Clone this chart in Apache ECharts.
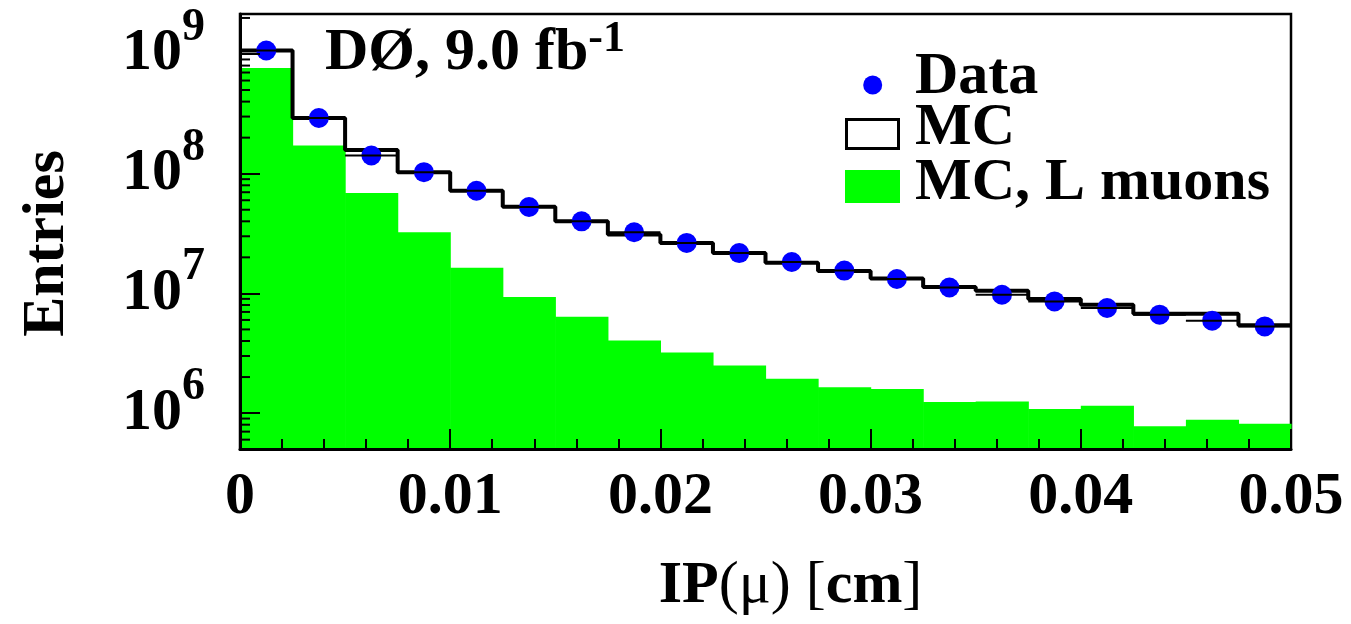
<!DOCTYPE html>
<html><head><meta charset="utf-8">
<script src="https://cdn.jsdelivr.net/npm/echarts@6/dist/echarts.min.js"></script>
<style>html,body{margin:0;padding:0;background:#fff}#c{width:1351px;height:624px}</style>
</head><body><div id="c"></div>
<script>
// ---- data ----
const binEdges = [0, 0.0025, 0.005, 0.0075, 0.01, 0.0125, 0.015, 0.0175, 0.02, 0.0225, 0.025,
  0.0275, 0.03, 0.0325, 0.035, 0.0375, 0.04, 0.0425, 0.045, 0.0475, 0.05];
const dataValues = [1.07e9, 2.92e8, 1.42e8, 1.03e8, 7.2e7, 5.27e7, 4.0e7, 3.24e7, 2.64e7, 2.17e7,
  1.83e7, 1.55e7, 1.32e7, 1.12e7, 9.75e6, 8.57e6, 7.55e6, 6.64e6, 5.92e6, 5.30e6];
const mcValues = [1.07e9, 2.92e8, 1.58e8, 1.03e8, 7.2e7, 5.3e7, 4.0e7, 3.1e7, 2.64e7, 2.17e7,
  1.80e7, 1.54e7, 1.33e7, 1.13e7, 1.05e7, 8.98e6, 8.05e6, 6.76e6, 6.76e6, 5.41e6];
const mcLMuonValues = [7.64e8, 1.72e8, 6.9e7, 3.24e7, 1.64e7, 9.33e6, 6.38e6, 4.05e6, 3.21e6, 2.50e6,
  1.94e6, 1.64e6, 1.59e6, 1.24e6, 1.25e6, 1.08e6, 1.15e6, 7.75e5, 8.81e5, 8.15e5];
const xTickLabels = ['0', '0.01', '0.02', '0.03', '0.04', '0.05'];
const yMinorTickMantissas = [2, 3, 4, 5, 6, 7, 8, 9];
const yMinorTickDecades = [5, 6, 7, 8, 9];
const legendLabels = ['Data', 'MC', 'MC, L muons'];
const annotation = { main: 'DØ, 9.0 fb', sup: '-1' };
const xTitleParts = [['B', 'IP'], ['N', '(μ)'], ['B', ' '], ['N', '['], ['B', 'cm'], ['N', ']']]; // "IP(μ) [cm]"
const yTitle = 'Entries';

// ---- derived ----
const FONT = '"Liberation Serif", "Times New Roman", serif';
const Y_MIN = Math.pow(10, 5.7), Y_MAX = Math.pow(10, 9.334);
const nBins = dataValues.length;
const centers = dataValues.map((v, i) => (binEdges[i] + binEdges[i + 1]) / 2);
const minorTicks = [];
yMinorTickDecades.forEach(d => yMinorTickMantissas.forEach(m => {
  const v = m * Math.pow(10, d);
  if (v > Y_MIN * 1.01 && v < Y_MAX) minorTicks.push([0, v]);
}));
const xTitleRich = xTitleParts.map(p => '{' + p[0] + '|' + p[1] + '}').join('');

const chart = echarts.init(document.getElementById('c'), null, { renderer: 'canvas' });
const option = {
  backgroundColor: '#ffffff',
  animation: false,
  grid: {
    left: 240, top: 14, width: 1051, height: 435,
    show: true, borderColor: '#000', borderWidth: 2.5, backgroundColor: 'transparent',
    outerBoundsMode: 'none'
  },
  xAxis: {
    type: 'value', min: 0, max: 0.05, interval: 0.01, z: 10,
    axisLine: { show: true, onZero: false, lineStyle: { color: '#000', width: 3 } },
    axisTick: { show: true, inside: true, length: 20, lineStyle: { color: '#000', width: 2 } },
    minorTick: { show: true, splitNumber: 5, length: 10, lineStyle: { color: '#000', width: 2 } },
    splitLine: { show: false },
    axisLabel: {
      margin: 18, color: '#000', fontFamily: FONT, fontWeight: 'bold', fontSize: 60,
      formatter: v => xTickLabels[Math.round(v / 0.01)] || ''
    },
    name: xTitleRich, nameLocation: 'middle', nameGap: 107,
    nameTextStyle: {
      color: '#000', fontFamily: FONT, fontWeight: 'bold', fontSize: 60, padding: [0, 0, 0, 50],
      rich: {
        B: { fontFamily: FONT, fontWeight: 'bold', fontSize: 60, color: '#000' },
        N: { fontFamily: FONT, fontWeight: 'normal', fontSize: 60, color: '#000' }
      }
    }
  },
  yAxis: {
    type: 'log', logBase: 10, min: Y_MIN, max: Y_MAX, z: 10,
    axisLine: { show: true, onZero: false, lineStyle: { color: '#000', width: 3 } },
    axisTick: { show: true, inside: true, length: 20, lineStyle: { color: '#000', width: 2 } },
    splitLine: { show: false },
    axisLabel: {
      margin: 35, color: '#000', fontFamily: FONT, fontWeight: 'bold',
      formatter: v => {
        const e = Math.log10(v);
        if (Math.abs(e - Math.round(e)) > 1e-6) return '';
        return '{b|10}{s|' + Math.round(e) + '}';
      },
      rich: {
        b: { fontFamily: FONT, fontWeight: 'bold', fontSize: 60, lineHeight: 98, color: '#000' },
        s: { fontFamily: FONT, fontWeight: 'bold', fontSize: 46, lineHeight: 46, verticalAlign: 'top', color: '#000' }
      }
    },
    name: yTitle, nameLocation: 'middle', nameGap: 163, nameRotate: 90,
    nameTextStyle: { color: '#000', fontFamily: FONT, fontWeight: 'bold', fontSize: 60, padding: [0, 24, 0, 0] }
  },
  series: [
    {
      name: legendLabels[2], type: 'custom', z: 1, silent: true,
      data: mcLMuonValues.map((v, i) => [binEdges[i], binEdges[i + 1], v]),
      encode: { x: [0, 1], y: 2 },
      renderItem: (params, api) => {
        const p1 = api.coord([api.value(0), api.value(2)]);
        const p2 = api.coord([api.value(1), api.value(2)]);
        const cs = params.coordSys;
        return {
          type: 'rect',
          shape: { x: p1[0], y: p1[1], width: p2[0] - p1[0] + 0.6, height: cs.y + cs.height - p1[1] },
          style: { fill: '#00ff00', stroke: null }
        };
      }
    },
    {
      name: legendLabels[1], type: 'line', step: 'end', z: 2, silent: true,
      data: binEdges.map((e, i) => [e, mcValues[Math.min(i, nBins - 1)]]),
      symbol: 'none', lineStyle: { color: '#000', width: 4 }
    },
    {
      name: legendLabels[0], type: 'scatter', z: 3, silent: true,
      data: dataValues.map((v, i) => [centers[i], v]),
      symbol: 'circle', symbolSize: 20, itemStyle: { color: '#0000ff', opacity: 1 }
    },
    {
      name: 'data x-errors', type: 'custom', z: 4, silent: true,
      data: dataValues.map((v, i) => [binEdges[i], binEdges[i + 1], v]),
      encode: { x: [0, 1], y: 2 },
      renderItem: (params, api) => {
        const p1 = api.coord([api.value(0), api.value(2)]);
        const p2 = api.coord([api.value(1), api.value(2)]);
        return { type: 'line', shape: { x1: p1[0], y1: p1[1], x2: p2[0], y2: p2[1] },
          style: { stroke: '#000', lineWidth: 2 } };
      }
    },
    {
      name: 'y minor ticks', type: 'custom', z: 5, silent: true, clip: false,
      data: minorTicks, encode: { x: 0, y: 1 },
      renderItem: (params, api) => {
        const p = api.coord([0, api.value(1)]);
        return { type: 'line', shape: { x1: p[0], y1: p[1], x2: p[0] + 10, y2: p[1] },
          style: { stroke: '#000', lineWidth: 2 } };
      }
    }
  ],
  graphic: [
    { type: 'text', left: 325, top: 18, z: 10,
      style: { text: '{a|' + annotation.main + '}{s|' + annotation.sup + '}',
        rich: {
          a: { fontFamily: FONT, fontWeight: 'bold', fontSize: 60, lineHeight: 71, fill: '#000' },
          s: { fontFamily: FONT, fontWeight: 'bold', fontSize: 44, lineHeight: 44, verticalAlign: 'top', fill: '#000' }
        } } },
    { type: 'circle', z: 10, shape: { cx: 872.7, cy: 85, r: 9.5 }, style: { fill: '#0000ff' } },
    { type: 'rect', z: 10, shape: { x: 846.5, y: 119.5, width: 52, height: 29 }, style: { fill: '#fff', stroke: '#000', lineWidth: 3 } },
    { type: 'rect', z: 10, shape: { x: 845, y: 170, width: 55, height: 33 }, style: { fill: '#00ff00' } },
    { type: 'text', z: 10, style: { x: 915, y: 77, text: legendLabels[0], font: 'bold 60px ' + FONT, fill: '#000', verticalAlign: 'middle' } },
    { type: 'text', z: 10, style: { x: 915, y: 128, text: legendLabels[1], font: 'bold 60px ' + FONT, fill: '#000', verticalAlign: 'middle' } },
    { type: 'text', z: 10, style: { x: 915, y: 183, text: legendLabels[2], font: 'bold 60px ' + FONT, fill: '#000', verticalAlign: 'middle' } }
  ]
};
chart.setOption(option);
</script>
</body></html>
